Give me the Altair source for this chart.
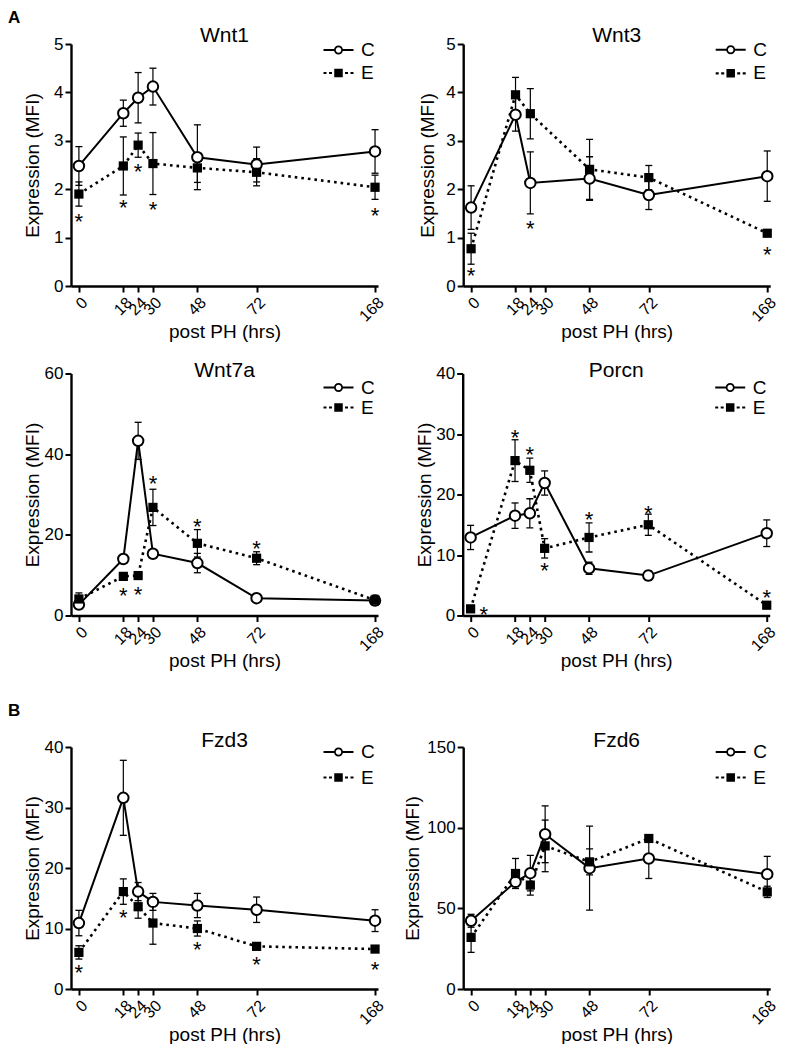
import altair as alt
import pandas as pd

FONT = "Liberation Sans"

HOURS = [0, 18, 24, 30, 48, 72, 168]
SERIES = ["C", "E"]

# ---- data (mean and SEM) ----
WNT1_C = [2.48, 3.57, 3.89, 4.12, 2.66, 2.51, 2.78]
WNT1_C_SEM = [0.40, 0.27, 0.52, 0.38, 0.67, 0.36, 0.45]
WNT1_E = [1.90, 2.48, 2.91, 2.53, 2.44, 2.35, 2.04]
WNT1_E_SEM = [0.25, 0.60, 0.25, 0.64, 0.30, 0.28, 0.25]
WNT1_STAR_T = [0, 18, 24, 30, 168]
WNT1_STAR_Y = [1.45, 1.73, 2.48, 1.70, 1.56]

WNT3_C = [1.62, 3.54, 2.13, None, 2.22, 1.88, 2.27]
WNT3_C_SEM = [0.45, 0.34, 0.64, None, 0.45, 0.30, 0.52]
WNT3_E = [0.77, 3.95, 3.56, None, 2.41, 2.24, 1.09]
WNT3_E_SEM = [0.32, 0.36, 0.52, None, 0.62, 0.25, 0.05]
WNT3_STAR_T = [0, 24, 168]
WNT3_STAR_Y = [0.34, 1.31, 0.76]

WNT7A_C = [2.7, 14.0, 43.3, 15.3, 13.0, 4.3, 3.7]
WNT7A_C_SEM = [1.0, 0.8, 4.6, 1.0, 2.4, 0.5, 1.0]
WNT7A_E = [4.1, 9.7, 9.9, 26.8, 17.9, 14.2, 3.8]
WNT7A_E_SEM = [1.5, 0.8, 0.8, 4.5, 3.4, 1.6, 1.2]
WNT7A_STAR_T = [18, 24, 30, 48, 72]
WNT7A_STAR_Y = [6.2, 6.6, 34.0, 23.5, 18.0]

PORCN_C = [12.9, 16.5, 16.9, 21.9, 7.8, 6.6, 13.6]
PORCN_C_SEM = [2.0, 2.1, 2.4, 2.0, 1.0, 0.8, 2.2]
PORCN_E = [1.1, 25.6, 24.0, 11.1, 12.9, 15.0, 1.7]
PORCN_E_SEM = [0.3, 3.45, 2.0, 1.6, 2.4, 1.75, 0.3]
PORCN_STAR_T = [5.3, 18, 24, 30, 48, 72, 168]
PORCN_STAR_Y = [1.0, 30.3, 27.6, 8.4, 16.7, 17.8, 3.9]

FZD3_C = [10.9, 31.6, 16.1, 14.4, 13.8, 13.1, 11.3]
FZD3_C_SEM = [2.1, 6.2, 1.5, 1.4, 2.0, 2.1, 1.8]
FZD3_E = [6.05, 16.1, 13.6, 10.9, 10.0, 7.05, 6.6]
FZD3_E_SEM = [1.1, 2.1, 1.9, 3.5, 1.25, 0.5, 0.3]
FZD3_STAR_T = [0, 18, 48, 72, 168]
FZD3_STAR_Y = [3.6, 12.65, 7.4, 4.95, 4.1]

FZD6_C = [42.3, 66.4, 71.8, 95.9, 74.9, 80.9, 71.2]
FZD6_C_SEM = [4.0, 4.0, 11.0, 17.6, 26.0, 12.4, 11.0]
FZD6_E = [32.0, 71.6, 64.4, 88.7, 78.8, 93.3, 60.2]
FZD6_E_SEM = [9.3, 9.3, 6.2, 16.0, 8.0, 2.0, 3.5]
FZD6_STAR_T = []
FZD6_STAR_Y = []

# legend symbols drawn with fills only (ring + bars / square + dashes)
PATH_C = ("M-3,-0.2H-0.8V0.2H-3Z M0.8,-0.2H3V0.2H0.8Z "
          "M0.9,0A0.9,0.9 0 1,1 -0.9,0A0.9,0.9 0 1,1 0.9,0Z "
          "M0.55,0A0.55,0.55 0 1,0 -0.55,0A0.55,0.55 0 1,0 0.55,0Z")
PATH_E = ("M-3,-0.22H-2.4V0.22H-3Z M-1.9,-0.22H-1.3V0.22H-1.9Z "
          "M1.3,-0.22H1.9V0.22H1.3Z M2.4,-0.22H3V0.22H2.4Z "
          "M-0.85,-0.85H0.85V0.85H-0.85Z")

W, H = 307, 242


def make_panel(name, c, ce, e, ee, star_t, star_y, ymax, yticks,
               title_offset, ytitle_pad, yext, legend_y, legend_row):
    rows = []
    for s, vals, errs in (("C", c, ce), ("E", e, ee)):
        for t, v, er in zip(HOURS, vals, errs):
            if v is None:
                continue
            rows.append(dict(t=t, series=s, v=v, lo=v - er, hi=v + er))
    df = pd.DataFrame(rows)
    stars = pd.DataFrame(dict(t=star_t, y=star_y))

    xscale = alt.Scale(domain=[-3.2, 72, 170.4], range=[0, 185.6, W], nice=False, zero=False)
    xaxis = alt.Axis(values=HOURS, labelAngle=-45, labelOverlap=False, labelFlush=False,
                     labelBound=False, tickSize=6, tickWidth=2, domainWidth=2.4,
                     labelFontSize=16, labelPadding=2, titleFontSize=19, titlePadding=2,
                     minExtent=34, maxExtent=34)
    yscale = alt.Scale(domain=[0, ymax], nice=False, zero=True)
    yaxis = alt.Axis(values=yticks, tickSize=6, tickWidth=2, domainWidth=2.4,
                     labelFontSize=17, labelPadding=2, titleFontSize=19,
                     titlePadding=ytitle_pad, minExtent=yext, maxExtent=yext)

    X = alt.X("t:Q", scale=xscale, axis=xaxis, title="post PH (hrs)")

    def Y(field):
        return alt.Y(field, type="quantitative", scale=yscale, axis=yaxis, title="Expression (MFI)")

    base = alt.Chart(df)
    line_c = base.transform_filter("datum.series == 'C'").mark_line(
        color="black", strokeWidth=2).encode(x=X, y=Y("v"))
    line_e = base.transform_filter("datum.series == 'E'").mark_line(
        color="black", strokeWidth=2.6, strokeDash=[2.6, 4]).encode(x=X, y=Y("v"))
    err = base.mark_rule(color="black", strokeWidth=1.2).encode(x=X, y=Y("lo"), y2="hi:Q")
    cap_lo = base.mark_tick(orient="horizontal", color="black", size=7, thickness=1.3,
                            opacity=1).encode(x=X, y=Y("lo"))
    cap_hi = base.mark_tick(orient="horizontal", color="black", size=7, thickness=1.3,
                            opacity=1).encode(x=X, y=Y("hi"))
    pts_c = base.transform_filter("datum.series == 'C'").mark_point(
        shape="circle", filled=True, fill="white", stroke="black", strokeWidth=2,
        size=110, opacity=1).encode(x=X, y=Y("v"))
    pts_e = base.transform_filter("datum.series == 'E'").mark_point(
        shape="square", filled=True, color="black", size=85, opacity=1).encode(x=X, y=Y("v"))
    layers = [line_c, line_e, err, cap_lo, cap_hi, pts_c, pts_e]
    if len(stars):
        star_layer = alt.Chart(stars).mark_text(
            text="*", fontSize=22, dy=6, color="black", font=FONT).encode(x=X, y=Y("y"))
        layers.append(star_layer)
    legend = alt.Legend(title=None, orient="none", legendX=258, legendY=legend_y,
                        symbolSize=100, symbolFillColor="black", symbolStrokeWidth=0,
                        symbolOpacity=1, labelFontSize=19, labelOffset=13, labelFont=FONT,
                        labelColor="black", rowPadding=legend_row, padding=0)
    leg_layer = base.transform_filter("datum.t < -1000").mark_point(
        filled=True, color="black", opacity=1, size=100, strokeWidth=0).encode(
        x=X, y=Y("v"),
        shape=alt.Shape("series:N", scale=alt.Scale(domain=SERIES, range=[PATH_C, PATH_E]),
                        legend=legend))
    layers.append(leg_layer)
    return alt.layer(*layers).properties(
        width=W, height=H,
        title=alt.Title(name, fontSize=21, fontWeight="normal", offset=title_offset,
                        anchor="middle", font=FONT, color="black"))


wnt1 = make_panel("Wnt1", WNT1_C, WNT1_C_SEM, WNT1_E, WNT1_E_SEM, WNT1_STAR_T, WNT1_STAR_Y,
                  5, [0, 1, 2, 3, 4, 5], -10.5, 11.5, 17.5, -3.5, 3)
wnt3 = make_panel("Wnt3", WNT3_C, WNT3_C_SEM, WNT3_E, WNT3_E_SEM, WNT3_STAR_T, WNT3_STAR_Y,
                  5, [0, 1, 2, 3, 4, 5], -10.5, 8, 17.5, -3.8, 3.6)
wnt7a = make_panel("Wnt7a", WNT7A_C, WNT7A_C_SEM, WNT7A_E, WNT7A_E_SEM, WNT7A_STAR_T, WNT7A_STAR_Y,
                   60, [0, 20, 40, 60], -16.5, 2, 27, 4.5, -2)
porcn = make_panel("Porcn", PORCN_C, PORCN_C_SEM, PORCN_E, PORCN_E_SEM, PORCN_STAR_T, PORCN_STAR_Y,
                   40, [0, 10, 20, 30, 40], -16.5, 1, 27, 4.5, -2)
fzd3 = make_panel("Fzd3", FZD3_C, FZD3_C_SEM, FZD3_E, FZD3_E_SEM, FZD3_STAR_T, FZD3_STAR_Y,
                  40, [0, 10, 20, 30, 40], -12.5, 2, 27, -4.5, 5.5)
fzd6 = make_panel("Fzd6", FZD6_C, FZD6_C_SEM, FZD6_E, FZD6_E_SEM, FZD6_STAR_T, FZD6_STAR_Y,
                  150, [0, 50, 100, 150], -12.5, 4, 36.5, -4.5, 5.5)

row1 = alt.hconcat(wnt1, wnt3, spacing=31.2).resolve_scale(shape="independent")
row2 = alt.hconcat(wnt7a, porcn, spacing=28.7).resolve_scale(shape="independent")
row3 = alt.hconcat(fzd3, fzd6, spacing=16.2).resolve_scale(shape="independent")

group_a = alt.ConcatChart(concat=[row1, row2], columns=1, align="none", spacing=18.5).resolve_scale(
    shape="independent").properties(
    title=alt.Title("A", anchor="start", fontSize=17, fontWeight="bold", dx=-15, offset=-2,
                    font=FONT, color="black"))
group_b = alt.ConcatChart(concat=[row3], columns=1, align="none", spacing=6).resolve_scale(
    shape="independent").properties(
    title=alt.Title("B", anchor="start", fontSize=17, fontWeight="bold", dx=-15, offset=9.5,
                    font=FONT, color="black"))

chart = alt.ConcatChart(concat=[group_a, group_b], columns=1, align="none", spacing=31).resolve_scale(
    shape="independent").properties(
    padding={"left": 0, "top": 0, "right": 0, "bottom": 0}
).configure_view(stroke=None).configure_axis(
    grid=False, domainColor="black", tickColor="black", labelColor="black",
    titleColor="black", labelFont=FONT, titleFont=FONT, titleFontWeight="normal"
).configure_title(font=FONT, color="black")

chart.save("out.html", embed_options={"renderer": "svg", "actions": False})
